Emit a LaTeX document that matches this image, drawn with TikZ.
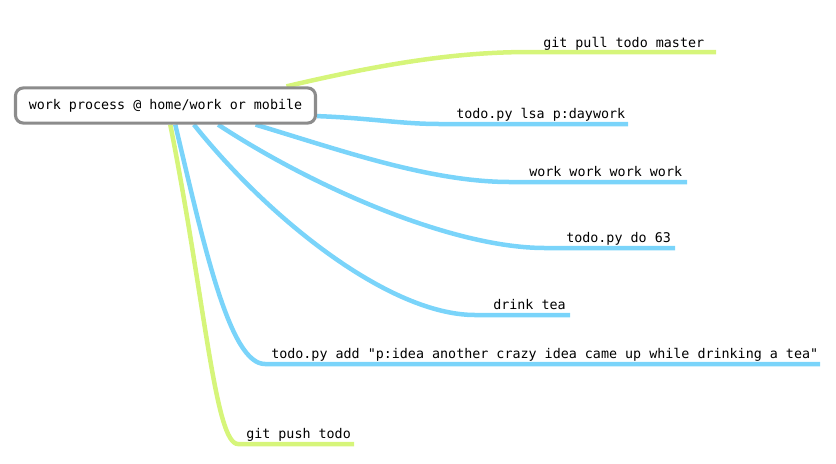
\documentclass[tikz,border=0pt]{standalone}
\usepackage{fontspec}
\setmonofont{DejaVu Sans Mono}
\usetikzlibrary{backgrounds}
\definecolor{verde}{RGB}{214,245,122}
\definecolor{azul}{RGB}{122,212,250}
\definecolor{borde}{RGB}{140,140,140}

\begin{document}
\begin{tikzpicture}[x=0.025cm,y=-0.025cm,
  raiz/.style={draw=borde,line width=2.2pt,rounded corners=0.2cm,fill=white,
    minimum width=7.5cm,minimum height=0.88cm,inner sep=0pt,
    font=\ttfamily\fontsize{9.5}{11}\selectfont},
  hoja/.style={inner sep=0pt,anchor=base west,font=\ttfamily\fontsize{9.5}{11}\selectfont},
  ramaverde/.style={draw=verde,line width=3.2pt},
  ramaazul/.style={draw=azul,line width=3.2pt}]
  \useasboundingbox (0,0) rectangle (836,463);

  % Nodo central
  \node[raiz] (root) at (165.5,105.5) {work process @ home/work or mobile};

  % Etiquetas de las ramas
  \node[hoja] (pull) at (543,47.5) {git pull todo master};
  \node[hoja] (lsa) at (456,118.5) {todo.py lsa p:daywork};
  \node[hoja] (work) at (529,176.5) {work work work work};
  \node[hoja] (do) at (566,242.5) {todo.py do 63};
  \node[hoja] (tea) at (493,309.5) {drink tea};
  \node[hoja] (add) at (271,358.5) {todo.py add "p:idea another crazy idea came up while drinking a tea"};
  \node[hoja] (push) at (246,438.5) {git push todo};

  % Extremos de las lineas
  \coordinate (pullA) at (530,52);  \coordinate (pullB) at (716,52);
  \coordinate (lsaA) at (440,124);  \coordinate (lsaB) at (628,124);
  \coordinate (workA) at (510,182); \coordinate (workB) at (687,182);
  \coordinate (doA) at (545,248);   \coordinate (doB) at (675,248);
  \coordinate (teaA) at (475,315);  \coordinate (teaB) at (570,315);
  \coordinate (addA) at (265,364);  \coordinate (addB) at (820,364);
  \coordinate (pushA) at (238,444); \coordinate (pushB) at (354,444);

  % Ramas
  \begin{scope}[on background layer]
  \draw[ramaverde] (root.9) .. controls (390,62) and (460,52) .. (pullA) -- (pullB);
  \draw[ramaazul] (root.-4) .. controls (370,118) and (400,124) .. (lsaA) -- (lsaB);
  \draw[ramaazul] (root.-12) .. controls (340,150) and (430,182) .. (workA) -- (workB);
  \draw[ramaazul] (root.-20.5) .. controls (310,185) and (450,248) .. (doA) -- (doB);
  \draw[ramaazul] (root.-34) .. controls (270,220) and (390,315) .. (teaA) -- (teaB);
  \draw[ramaazul] (root.-63) .. controls (205,250) and (230,364) .. (addA) -- (addB);
  \draw[ramaverde] (root.-76) .. controls (205,300) and (215,444) .. (pushA) -- (pushB);
  \end{scope}
\end{tikzpicture}
\end{document}
